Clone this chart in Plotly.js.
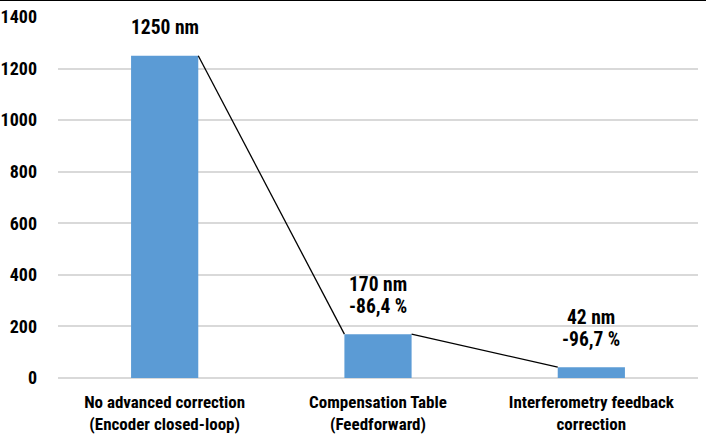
<!DOCTYPE html>
<html><head><meta charset="utf-8">
<script src="https://cdn.plot.ly/plotly-3.0.1.min.js"></script>
<style>html,body{margin:0;padding:0;background:#fff}#topline{position:absolute;left:0;top:0;width:706px;height:1px;background:#000;z-index:10}</style>
</head><body>
<div id="topline"></div>
<div id="chart" style="width:706px;height:446px"></div>
<script>
const categories = ["No advanced correction<br>(Encoder closed-loop)", "Compensation Table<br>(Feedforward)", "Interferometry feedback<br>correction"];
const values = [1250, 170, 42];
const labelLines = [["1250 nm"], ["170 nm", "-86,4 %"], ["42 nm", "-96,7 %"]];
const yTicks = [0, 200, 400, 600, 800, 1000, 1200, 1400];

const barWidth = 0.315;
const idx = categories.map((c, i) => i);

// series lines: top-right of each bar to top-left of the next bar
const lineX = [], lineY = [];
for (let i = 0; i < values.length - 1; i++) {
  lineX.push(i + barWidth / 2, i + 1 - barWidth / 2, null);
  lineY.push(values[i], values[i + 1], null);
}

const font = "Roboto Condensed, Liberation Sans, sans-serif";

const traces = [
  {type: "bar", x: idx, y: values, width: barWidth, marker: {color: "#5B9BD5"}, hoverinfo: "skip"},
  {type: "scatter", mode: "lines", x: lineX, y: lineY, connectgaps: false, line: {color: "#000", width: 1.3}, hoverinfo: "skip"}
];

const annotations = [];
values.forEach((v, i) => {
  const lines = labelLines[i];
  lines.forEach((t, k) => {
    annotations.push({
      x: i, y: v, xref: "x", yref: "y", text: "<b>" + t + "</b>", showarrow: false,
      yanchor: "middle", yshift: 28 + 22 * (lines.length - 1 - k), align: "center",
      font: {family: font, size: 19.5, color: "#000"}
    });
  });
});

const layout = {
  width: 706, height: 446,
  margin: {l: 58, r: 8, t: 17, b: 68},
  paper_bgcolor: "#fff", plot_bgcolor: "#fff",
  showlegend: false,
  xaxis: {
    range: [-0.5, 2.5], tickmode: "array", tickvals: idx,
    ticktext: categories.map(c => "<b>" + c + "</b>"),
    tickfont: {family: font, size: 17, color: "#000"},
    showgrid: false, zeroline: false, showline: false, ticks: "", ticklabelstandoff: 12
  },
  yaxis: {
    range: [0, 1400], tickmode: "array", tickvals: yTicks,
    ticktext: yTicks.map(t => "<b>" + t + "</b>"),
    tickfont: {family: font, size: 18, color: "#000"},
    showgrid: true, gridcolor: "#D9D9D9", gridwidth: 2,
    zeroline: true, zerolinecolor: "#D9D9D9", zerolinewidth: 2,
    showline: false, ticks: "", ticklabelstandoff: 20
  },
  annotations: annotations
};

Plotly.newPlot("chart", traces, layout, {displayModeBar: false, staticPlot: true});
</script>
</body></html>
